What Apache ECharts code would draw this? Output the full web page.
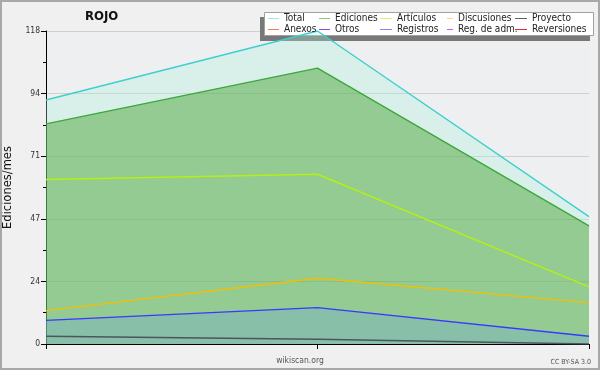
<!DOCTYPE html>
<html>
<head>
<meta charset="utf-8">
<script src="https://cdn.jsdelivr.net/npm/echarts@6/dist/echarts.min.js"></script>
<style>
html,body{margin:0;padding:0;background:#f0f0f0;}
#c{width:600px;height:370px;}
</style>
</head>
<body>
<div id="c"></div>
<script>
// ---- data ----
const categories = ['p1', 'p2', 'p3'];
const total       = [92, 118, 48];
const ediciones   = [83, 104, 44.5];
const articulos   = [62, 64, 21.5];
const discusiones = [12.6, 24.8, 15.6];
const registros   = [8.9, 13.7, 2.9];
const proyecto    = [2.9, 1.8, 0];
const anexos      = [null, null, null];
const otros       = [null, null, null];
const regAdm      = [null, null, null];
const reversiones = [null, null, null];
const yTicks = [0, 24, 47, 71, 94, 118];
const yMax = 118;

const legendColumns = [
  ['Total', 'Anexos'],
  ['Ediciones', 'Otros'],
  ['Artículos', 'Registros'],
  ['Discusiones', 'Reg. de adm.'],
  ['Proyecto', 'Reversiones']
];

// ---- styles ----
const FONT = '"DejaVu Sans Condensed", "DejaVu Sans", sans-serif';
const lineColors = {
  'Total': '#3fcfcf', 'Ediciones': '#3ca83c', 'Artículos': '#b4f014',
  'Discusiones': '#f2c000', 'Registros': '#3838ff', 'Proyecto': '#4e545c',
  'Anexos': '#f07848', 'Otros': '#8a3ce0', 'Reg. de adm.': '#d048e0', 'Reversiones': '#e02828'
};
const legendColors = {
  'Total': '#a6e6e0', 'Ediciones': '#84cc84', 'Artículos': '#d2f07a',
  'Discusiones': '#ffd478', 'Registros': '#8484ff', 'Proyecto': '#606060',
  'Anexos': '#f08050', 'Otros': '#9048e0', 'Reg. de adm.': '#d058e0', 'Reversiones': '#e03030'
};
const legendLeft = [268, 319, 380, 447, 515];
const legendIconW = [11, 11, 12, 6, 12];

function series(name, data, area) {
  const s = {
    name: name, type: 'line', data: data, symbol: 'none', smooth: false,
    color: lineColors[name],
    lineStyle: { color: lineColors[name], width: 1.4 },
    emphasis: { disabled: true }
  };
  if (area) s.areaStyle = { color: area, opacity: 1 };
  return s;
}

const chart = echarts.init(document.getElementById('c'), null, { renderer: 'canvas' });

const legends = legendColumns.map((col, i) => ({
  orient: 'vertical',
  left: legendLeft[i], top: 13, padding: 0, itemGap: 0,
  icon: 'rect', itemWidth: legendIconW[i], itemHeight: 1,
  textStyle: { fontFamily: FONT, fontSize: 10, color: '#222', lineHeight: 11 },
  data: col.map(n => ({ name: n, itemStyle: { color: legendColors[n] } })),
  selectedMode: false
}));

chart.setOption({
  backgroundColor: '#f0f0f0',
  animation: false,
  title: {
    text: 'ROJO', left: 85, top: 10, padding: 0,
    textStyle: { fontFamily: FONT, fontSize: 13, fontWeight: 'bold', color: '#111' }
  },
  legend: legends,
  grid: { left: 46, right: 11, top: 31, bottom: 26, show: true, backgroundColor: '#eeeff1', borderWidth: 0,
          containLabel: false, outerBoundsMode: 'none' },
  xAxis: {
    type: 'category', data: categories, boundaryGap: false,
    axisLine: { lineStyle: { color: '#000', width: 1 } },
    axisTick: { show: true, length: 5, lineStyle: { color: '#000' } },
    axisLabel: { show: false },
    splitLine: { show: false }
  },
  yAxis: {
    type: 'value', min: 0, max: yMax, interval: yMax / 5,
    name: 'Ediciones/mes', nameLocation: 'middle', nameGap: 28,
    nameTextStyle: { fontFamily: '"DejaVu Sans", sans-serif', fontSize: 11.5, color: '#111' },
    axisLine: { show: true, lineStyle: { color: '#000', width: 1 } },
    axisTick: { show: true, length: 5, lineStyle: { color: '#000' } },
    minorTick: { show: true, splitNumber: 2, length: 3, lineStyle: { color: '#000' } },
    axisLabel: {
      fontFamily: FONT, fontSize: 8.5, color: '#333', margin: 6,
      formatter: v => String(yTicks[Math.round(v / (yMax / 5))])
    },
    splitLine: { lineStyle: { color: '#cfcfcf', width: 1 } }
  },
  series: [
    series('Total', total, 'rgba(168,242,218,0.3)'),
    series('Ediciones', ediciones, 'rgba(77,166,60,0.5)'),
    series('Artículos', articulos),
    series('Discusiones', discusiones),
    series('Registros', registros, 'rgba(110,166,217,0.3)'),
    series('Proyecto', proyecto),
    series('Anexos', anexos),
    series('Otros', otros),
    series('Reg. de adm.', regAdm),
    series('Reversiones', reversiones)
  ],
  graphic: [
    { type: 'rect', z: 10, silent: true, shape: { x: 1, y: 1, width: 598, height: 368 },
      style: { fill: 'none', stroke: '#a8a8a8', lineWidth: 2 } },
    { type: 'rect', z: 3, silent: true, shape: { x: 260, y: 17, width: 330, height: 24 },
      style: { fill: '#787878' } },
    { type: 'rect', z: 3, silent: true, shape: { x: 264.5, y: 12.5, width: 329, height: 23 },
      style: { fill: '#ffffff', stroke: '#a0a0a0', lineWidth: 1 } },
    { type: 'text', z: 5, silent: true, x: 300, y: 361,
      style: { text: 'wikiscan.org', fill: '#555', font: '8.5px ' + FONT, textAlign: 'center', textVerticalAlign: 'middle' } },
    { type: 'text', z: 5, silent: true, x: 591, y: 362,
      style: { text: 'CC BY-SA 3.0', fill: '#555', font: '7px ' + FONT, textAlign: 'right', textVerticalAlign: 'middle' } }
  ]
});
</script>
</body>
</html>
